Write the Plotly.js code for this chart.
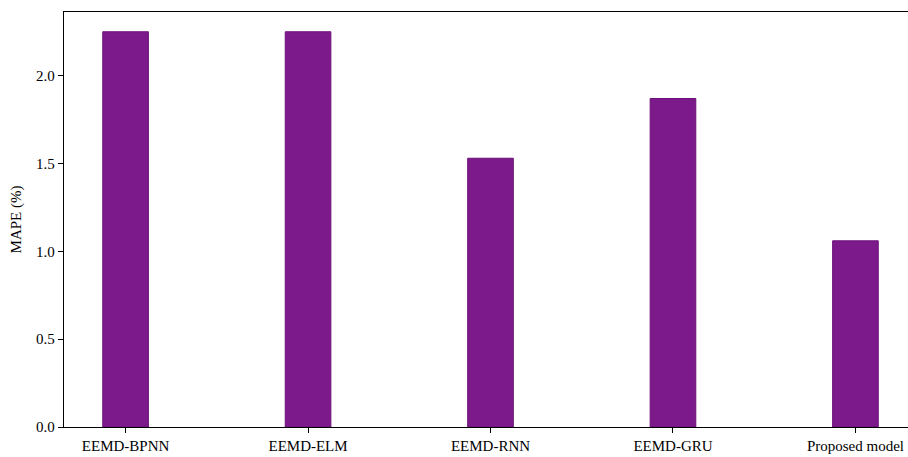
<!DOCTYPE html>
<html>
<head>
<meta charset="utf-8">
<script src="https://cdn.plot.ly/plotly-3.0.1.min.js"></script>
<style>
  html, body { margin: 0; padding: 0; background: #ffffff; }
  #chart { width: 908px; height: 457px; }
</style>
</head>
<body>
<div id="chart"></div>
<script>
// MAPE of each forecasting model
const models = ['EEMD-BPNN', 'EEMD-ELM', 'EEMD-RNN', 'EEMD-GRU', 'Proposed model'];
const mape = [2.25, 2.25, 1.53, 1.87, 1.06];
const yTicks = [0.0, 0.5, 1.0, 1.5, 2.0];
const yTickText = ['0.0', '0.5', '1.0', '1.5', '2.0'];

const idx = models.map((_, i) => i);
const serif = 'Liberation Serif, Times New Roman, serif';

const trace = {
  type: 'bar',
  x: idx,
  y: mape,
  width: 0.25,
  marker: { color: '#7d1a8b', line: { color: '#6c1079', width: 1 } },
  hoverinfo: 'x+y'
};

const layout = {
  width: 908,
  height: 457,
  margin: { l: 64, r: 0, t: 12, b: 30 },
  paper_bgcolor: '#ffffff',
  plot_bgcolor: '#ffffff',
  showlegend: false,
  font: { family: serif, size: 15, color: '#000000' },
  xaxis: {
    range: [-0.3375, 4.288],
    tickmode: 'array',
    tickvals: idx,
    ticktext: models,
    ticks: 'outside',
    ticklen: 5,
    tickwidth: 1,
    tickcolor: '#000000',
    showgrid: false,
    zeroline: false,
    showline: true,
    linecolor: '#000000',
    linewidth: 1.2,
    mirror: true,
    tickfont: { family: serif, size: 15, color: '#000000' }
  },
  yaxis: {
    range: [0, 2.3625],
    tickmode: 'array',
    tickvals: yTicks,
    ticktext: yTickText,
    ticks: 'outside',
    ticklen: 5,
    tickwidth: 1,
    tickcolor: '#000000',
    showgrid: false,
    zeroline: false,
    showline: true,
    linecolor: '#000000',
    linewidth: 1.2,
    tickfont: { family: serif, size: 15, color: '#000000' },
    title: { text: 'MAPE (%)', font: { family: serif, size: 15, color: '#000000' }, standoff: 10 }
  }
};

Plotly.newPlot('chart', [trace], layout, { displayModeBar: false, staticPlot: true });
</script>
</body>
</html>
